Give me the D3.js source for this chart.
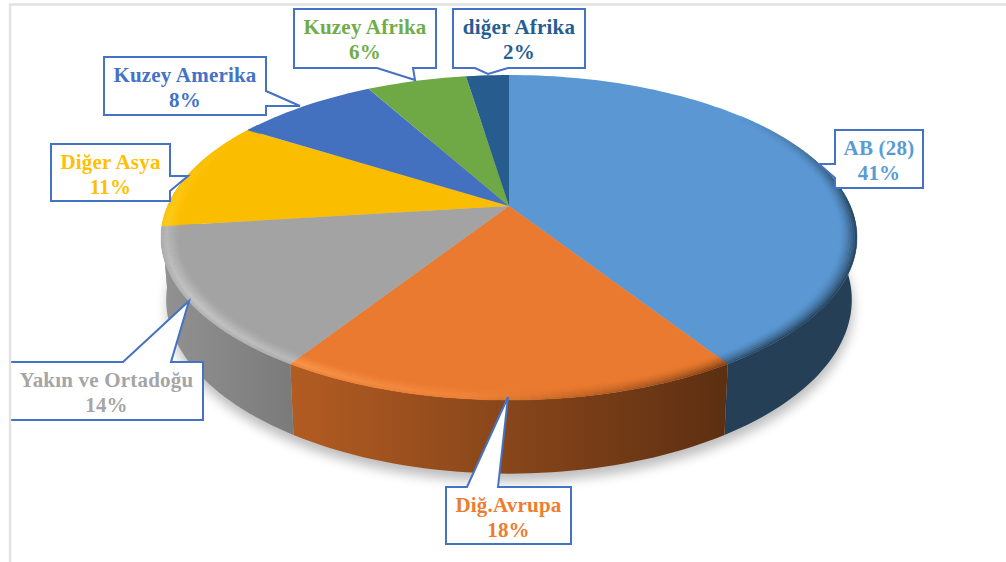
<!DOCTYPE html>
<html>
<head>
<meta charset="utf-8">
<style>
	html, body { margin: 0; padding: 0; background: #fff; }
	svg { display: block; }
	text { font-family: "Liberation Serif", serif; font-weight: bold; font-size: 21px; letter-spacing: 0.2px; text-anchor: middle; }
</style>
</head>
<body>
<svg width="1006" height="562"></svg>
<script src="https://cdn.jsdelivr.net/npm/d3@7"></script>
<script>
// values in pie order, clockwise from 12 o'clock
const categories = ['AB (28)', 'Diğ.Avrupa', 'Yakın ve Ortadoğu', 'Diğer Asya', 'Kuzey Amerika', 'Kuzey Afrika', 'diğer Afrika'];
const shares = [41, 18, 14, 11, 8, 5.6, 2.4];

const faceColors = ['#5b98d3', '#ea7a2f', '#a3a3a3', '#fbbd00', '#4371bf', '#6fa946', '#265c8e'];
const labelColors = ['#5b9bd5', '#ed7d31', '#a5a5a5', '#ffc000', '#4472c4', '#70ad47', '#255e91'];
const rimHighlights = ['#5b98d3', '#ffa55a', '#c6c6c6', '#ffd83a', '#4371bf', '#6fa946', '#265c8e'];
const wallColors = [
	['#243f56', '#243f56'],
	['#b35c22', '#5c2f12'],
	['#929292', '#7a7a7a'],
	['#929292', '#929292'],
	['#2c4b82', '#2c4b82'],
	['#4a722f', '#4a722f'],
	['#183e60', '#183e60']
];

// box x, y, w, h then the three corners of the pointer
const callouts = [
	{box: [835, 130, 88, 58], pointer: [[835, 164], [819, 164], [835, 178]]},
	{box: [446, 487, 125, 57], pointer: [[467, 487], [508, 397], [498, 487]]},
	{box: [10, 362, 193, 58], pointer: [[123, 362], [189, 301], [171, 362]]},
	{box: [51, 144, 119, 57], pointer: [[170, 176], [188, 176], [170, 191]]},
	{box: [104, 57, 162, 58], pointer: [[266, 91], [300, 106], [266, 106]]},
	{box: [294, 9, 142, 59], pointer: [[377, 68], [415, 80], [413, 68]]},
	{box: [453, 9, 132, 59], pointer: [[475, 68], [488, 74], [508, 68]]}
];

const svg = d3.select('svg'),
	cx = 509,
	cy = 206,
	a = 341.4,
	b = 156.4,
	k = 0.194,
	rimInner = 0.95,
	rimRings = 8,
	step = Math.PI / 120;

const color = d3.scaleOrdinal().domain(categories).range(faceColors);
const pie = d3.pie().sort(null).value(function (d, i) { return shares[i]; });
const arcs = pie(categories);
const line = d3.line();

// tilted disc: angle clockwise from the back, r 1 at the edge
function topPoint(theta, r) {
	const u = r * Math.sin(theta),
		v = r * Math.cos(theta),
		w = 1 + k * v;
	return [cx + a * u / w, cy - b * v / w];
}

function bottomPoint(theta) {
	const p = topPoint(theta, 1);
	return [cx + (p[0] - cx) * 0.985, cy + (p[1] - cy) * 1.07 + 60];
}

function sampleAngles(from, to) {
	const n = Math.max(2, Math.ceil((to - from) / step));
	return d3.range(n + 1).map(function (i) { return from + (to - from) * i / n; });
}

function clamp(x) {
	return Math.max(0, Math.min(1, x));
}

const defs = svg.append('defs');

defs.append('filter')
	.attr('id', 'soft')
	.attr('x', '-10%').attr('y', '-10%')
	.attr('width', '120%').attr('height', '120%')
	.append('feGaussianBlur')
	.attr('stdDeviation', 6);

const wallGradient = defs.selectAll('linearGradient')
	.data(arcs)
	.enter().append('linearGradient')
	.attr('id', function (d, i) { return 'wall' + i; });

wallGradient.append('stop').attr('offset', 0).attr('stop-color', function (d, i) { return wallColors[i][0]; });
wallGradient.append('stop').attr('offset', 1).attr('stop-color', function (d, i) { return wallColors[i][1]; });

// shadow under the disc
svg.append('path')
	.attr('d', line(sampleAngles(0, 2 * Math.PI).map(function (t) {
		const p = bottomPoint(t);
		return [p[0] + 1, p[1] + 8];
	})) + 'Z')
	.attr('fill', '#000')
	.attr('opacity', 0.26)
	.attr('filter', 'url(#soft)');

// side wall, only the part that faces the viewer
const wallFrom = 70 * Math.PI / 180,
	wallTo = 290 * Math.PI / 180;

svg.append('g')
	.selectAll('path')
	.data(arcs.filter(function (d) { return d.endAngle > wallFrom && d.startAngle < wallTo; }))
	.enter().append('path')
	.attr('d', function (d) {
		const angles = sampleAngles(Math.max(d.startAngle, wallFrom), Math.min(d.endAngle, wallTo));
		const upper = angles.map(function (t) { return topPoint(t, 1); });
		const lower = angles.slice().reverse().map(bottomPoint);
		return line(upper.concat(lower)) + 'Z';
	})
	.attr('fill', function (d) { return 'url(#wall' + d.index + ')'; });

// flat top of the slices
svg.append('g')
	.selectAll('path')
	.data(arcs)
	.enter().append('path')
	.attr('d', function (d) {
		const edge = sampleAngles(d.startAngle, d.endAngle).map(function (t) { return topPoint(t, 1); });
		return line([[cx, cy]].concat(edge)) + 'Z';
	})
	.attr('fill', function (d) { return color(d.data); });

// bevel along the rim, lit from the lower left and dark on the right
function rimColor(d, theta, t) {
	const deg = theta * 180 / Math.PI,
		base = faceColors[d.index],
		lit = clamp(1 - Math.abs(deg - 235) / 65),
		dark = clamp((185 - deg) / 45) * clamp((deg - 50) / 40),
		bump = t < 0.3 ? 0.4 + 0.6 * t / 0.3 : (1 - t) / 0.7;
	const high = d3.interpolateRgb(base, rimHighlights[d.index])(lit * bump);
	return d3.interpolateRgb(high, wallColors[d.index][1])(dark * Math.pow(1 - t, 1.6));
}

const rimCells = [];
arcs.forEach(function (d) {
	if (d.startAngle > 305 * Math.PI / 180 || d.endAngle < 50 * Math.PI / 180) {
		return;
	}
	const angles = sampleAngles(Math.max(d.startAngle, 50 * Math.PI / 180), Math.min(d.endAngle, 305 * Math.PI / 180));
	d3.pairs(angles).forEach(function (pair) {
		d3.range(rimRings).forEach(function (j) {
			rimCells.push({slice: d, from: pair[0], to: pair[1], ring: j});
		});
	});
});

svg.append('g')
	.selectAll('path')
	.data(rimCells)
	.enter().append('path')
	.attr('d', function (c) {
		const outer = 1 - (1 - rimInner) * c.ring / rimRings,
			inner = 1 - (1 - rimInner) * (c.ring + 1) / rimRings;
		return line([topPoint(c.from, outer), topPoint(c.to, outer), topPoint(c.to, inner), topPoint(c.from, inner)]) + 'Z';
	})
	.each(function (c) {
		const fill = rimColor(c.slice, (c.from + c.to) / 2, (c.ring + 0.5) / rimRings);
		d3.select(this).attr('fill', fill).attr('stroke', fill).attr('stroke-width', 0.4);
	});

// callouts
const callout = svg.append('g')
	.selectAll('g')
	.data(arcs)
	.enter().append('g');

callout.append('path')
	.attr('d', function (d) {
		const c = callouts[d.index],
			x0 = c.box[0],
			y0 = c.box[1],
			x1 = x0 + c.box[2],
			y1 = y0 + c.box[3],
			p = c.pointer;
		let corners;
		if (p[0][1] === y0) {
			corners = [[x0, y0], p[0], p[1], p[2], [x1, y0], [x1, y1], [x0, y1]];
		} else if (p[0][1] === y1) {
			corners = [[x0, y0], [x1, y0], [x1, y1], p[2], p[1], p[0], [x0, y1]];
		} else if (p[0][0] === x1) {
			corners = [[x0, y0], [x1, y0], p[0], p[1], p[2], [x1, y1], [x0, y1]];
		} else {
			corners = [[x0, y0], [x1, y0], [x1, y1], [x0, y1], p[2], p[1], p[0]];
		}
		return line(corners) + 'Z';
	})
	.attr('fill', '#fff')
	.attr('stroke', '#4472c4')
	.attr('stroke-width', 2);

callout.append('text')
	.attr('x', function (d) { return callouts[d.index].box[0] + callouts[d.index].box[2] / 2; })
	.attr('y', function (d) { return callouts[d.index].box[1] + 25; })
	.attr('fill', function (d) { return labelColors[d.index]; })
	.text(function (d) { return d.data; });

callout.append('text')
	.attr('x', function (d) { return callouts[d.index].box[0] + callouts[d.index].box[2] / 2; })
	.attr('y', function (d) { return callouts[d.index].box[1] + 49.5; })
	.attr('fill', function (d) { return labelColors[d.index]; })
	.text(function (d) { return Math.round(d.value) + '%'; });

// frame of the chart area, it runs over the left side of the lowest box
svg.append('path')
	.attr('d', line([[10, 562], [10, 4.5], [1006, 4.5]]))
	.attr('fill', 'none')
	.attr('stroke', '#e2e2e2')
	.attr('stroke-width', 2.4);
</script>
</body>
</html>
